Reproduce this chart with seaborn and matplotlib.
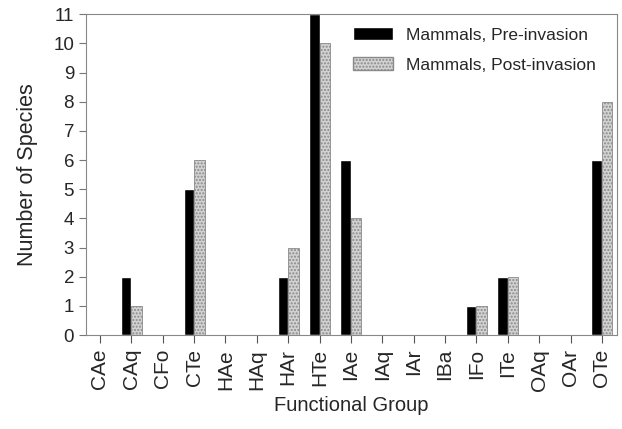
import pandas as pd
import matplotlib
matplotlib.use('Agg')
import matplotlib.pyplot as plt
import seaborn as sns

# data
groups = ['CAe', 'CAq', 'CFo', 'CTe', 'HAe', 'HAq', 'HAr', 'HTe', 'IAe',
          'IAq', 'IAr', 'IBa', 'IFo', 'ITe', 'OAq', 'OAr', 'OTe']
pre_invasion = [0, 2, 0, 5, 0, 0, 2, 11, 6, 0, 0, 0, 1, 2, 0, 0, 6]
post_invasion = [0, 1, 0, 6, 0, 0, 3, 10, 4, 0, 0, 0, 1, 2, 0, 0, 8]
series = ['Mammals, Pre-invasion', 'Mammals, Post-invasion']

df = pd.DataFrame({
    'group': groups * 2,
    'count': pre_invasion + post_invasion,
    'series': [series[0]] * len(groups) + [series[1]] * len(groups),
})

sns.set_style('ticks')
plt.rcParams['font.family'] = ['Liberation Sans', 'DejaVu Sans']

fig = plt.figure(figsize=(6.22, 4.29), dpi=100)
ax = fig.add_axes([0.138, 0.219, 0.854, 0.748])

sns.barplot(data=df, x='group', y='count', hue='series', order=groups,
            hue_order=series, palette=['black', '#d2d2d2'], width=0.67,
            saturation=1, ax=ax)

# stippled look for the post-invasion bars
for bar in ax.containers[1]:
    bar.set_hatch('.....')
    bar.set_edgecolor('#8a8a8a')
    bar.set_linewidth(0.6)

ax.set_ylim(0, 11)
ax.set_xlim(-0.45, 16.48)
ax.set_yticks(range(0, 12))
ax.tick_params(axis='y', labelsize=13.5, length=5, color='#777777')
ax.tick_params(axis='x', labelsize=15, rotation=90, length=6, pad=4,
               color='#555555')
ax.set_xlabel('Functional Group', fontsize=14.5, labelpad=4)
ax.set_ylabel('Number of Species', fontsize=15.5, labelpad=11)
for s in ax.spines.values():
    s.set_color('#888888')
    s.set_linewidth(0.8)

leg = ax.legend(loc='upper right', bbox_to_anchor=(0.985, 1.0), frameon=False,
                fontsize=12.5, handlelength=2.3, handleheight=0.75,
                labelspacing=0.85, handletextpad=0.75, borderaxespad=0.35)
for h in leg.legend_handles[1:]:
    h.set_hatch('.....')
    h.set_edgecolor('#8a8a8a')

fig.savefig('out.png', dpi=100)
